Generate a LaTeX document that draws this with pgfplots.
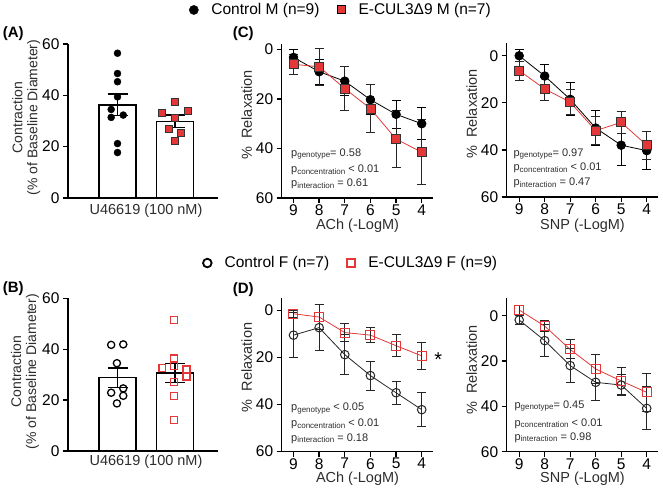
\documentclass[border=0pt]{standalone}
\usepackage{fontspec}
\setmainfont{Liberation Sans}
\usepackage{pgfplots}
\pgfplotsset{compat=1.18}
\definecolor{cred}{RGB}{228,56,56}
\definecolor{ptxt}{RGB}{45,45,45}
\newcommand{\sub}[1]{\raisebox{-0.3ex}{\fontsize{8}{9}\selectfont #1}}
\newcommand{\fs}[1]{\fontsize{#1}{#1}\selectfont}
\pgfplotsset{
  prism/.style={
    scale only axis,
    anchor=north west,
    axis x line*=bottom,
    axis y line*=left,
    axis line style={line width=1.3pt, -},
    tick style={line width=1.3pt, black},
    tick align=outside,
    major tick length=5pt,
    tick label style={font=\fs{15.5}},
    xticklabel style={inner sep=1.5pt},
    /pgf/number format/assume math mode=true,
    clip=false,
    ytick={0,20,40,60},
  },
  curveax/.style={prism, x dir=reverse, y dir=reverse, xtick={4,5,6,7,8,9}},
  ctrlM/.style={black, line width=0.8pt, mark=*, mark size=4.3pt, mark options={solid, fill=black, draw=black},
    error bars/.cd, y dir=both, y explicit, error bar style={black, line width=1pt},
    error mark options={rotate=90, black, mark size=4.5pt, line width=1pt}},
  culM/.style={cred, line width=0.8pt, mark=square*, mark size=4.5pt, mark options={solid, fill=cred, draw=black!80, line width=0.8pt},
    error bars/.cd, y dir=both, y explicit, error bar style={black!85, line width=1pt},
    error mark options={rotate=90, black!85, mark size=4.5pt, line width=1pt}},
  ctrlF/.style={black!85, line width=0.8pt, mark=o, mark size=4.3pt, mark options={solid, draw=black!85, fill=none, line width=1pt},
    error bars/.cd, y dir=both, y explicit, error bar style={black!85, line width=1pt},
    error mark options={rotate=90, black!85, mark size=4.5pt, line width=1pt}},
  culF/.style={cred, line width=0.8pt, mark=square, mark size=4.5pt, mark options={solid, draw=cred, fill=none, line width=1pt},
    error bars/.cd, y dir=both, y explicit, error bar style={black!85, line width=1pt},
    error mark options={rotate=90, black!85, mark size=4.5pt, line width=1pt}},
  toplegend/.style={legend style={draw=none, fill=none,
    font=\fs{15.5}, legend columns=2, inner sep=0pt,
    /tikz/every odd column/.append style={column sep=11pt},
    /tikz/every even column/.append style={column sep=16pt}},
    legend cell align=left},
}
\begin{document}
\begin{tikzpicture}
\path[use as bounding box] (0,0) rectangle (663pt,-489pt);

% ---------------- Panel A ----------------
\begin{axis}[prism, at={(68pt,-44pt)}, width=150pt, height=154pt,
  xmin=0.139, xmax=2.748, ymin=0, ymax=60, xtick=\empty, toplegend,
  legend style={at={(1.82,1.221)}, anchor=center}]
\addplot[ybar, bar width=37pt, fill=white, draw=black, line width=1.5pt, forget plot] coordinates {(1,36.3) (2,29.9)};
\addplot[only marks, mark=*, mark size=3.5pt, black, forget plot] coordinates {
(1.0,56.4) (1.0,48.5) (1.0,45.3) (1.0,39.4) (0.89,34.5) (1.10,32.3) (0.89,31.4) (1.0,21.2) (1.0,17.7)};
\addplot[only marks, mark=square*, mark size=3.5pt, mark options={fill=cred, draw=black!80, line width=0.8pt}, forget plot] coordinates {
(2.0,37.5) (1.78,33.3) (2.22,33.8) (2.0,31.4) (1.89,27.1) (2.11,25.5) (2.0,22.3)};
\addplot[draw=none, mark=none, forget plot, error bars/.cd, y dir=both, y explicit,
  error bar style={draw=black, line width=1.5pt}, error mark options={rotate=90, draw=black, mark size=10pt, line width=1.5pt}]
  table[x=x, y=y, y error=e] {
x y e
1 36.3 4.2
2 29.9 2.4
};
\addlegendimage{only marks, mark=*, mark size=4.6pt, black}
\addlegendentry{Control M (n=9)}
\addlegendimage{only marks, mark=square*, mark size=4pt, mark options={fill=cred, draw=black, line width=1pt}}
\addlegendentry{E-CUL3Δ9 M (n=7)}
\end{axis}

% ---------------- Panel B ----------------
\begin{axis}[prism, at={(68pt,-298.3pt)}, width=150pt, height=152.7pt,
  xmin=0.139, xmax=2.748, ymin=0, ymax=60, xtick=\empty, toplegend,
  legend style={at={(1.887,1.231)}, anchor=center}]
\addplot[ybar, bar width=37pt, fill=white, draw=black, line width=1.5pt, forget plot] coordinates {(1,28.8) (2,30.7)};
\addplot[only marks, mark=o, mark size=3.6pt, mark options={draw=black, line width=1.3pt}, forget plot] coordinates {
(0.89,41.7) (1.10,41.9) (0.99,34.5) (1.10,24.6) (0.89,22.9) (1.10,21.7) (0.99,18.7)};
\addplot[only marks, mark=square, mark size=3.4pt, mark options={draw=cred, line width=1.3pt}, forget plot] coordinates {
(1.98,51.5) (1.98,36.4) (1.78,32.7) (1.98,33.4) (2.2,32.1) (2.2,29.2) (1.98,27.2) (1.98,21.7) (1.98,12.2)};
\addplot[draw=none, mark=none, forget plot, error bars/.cd, y dir=both, y explicit,
  error bar style={draw=black, line width=1.5pt}, error mark options={rotate=90, draw=black, mark size=10pt, line width=1.5pt}]
  table[x=x, y=y, y error=e] {
x y e
1 28.8 3.9
2 30.7 3.7
};
\addlegendimage{only marks, mark=o, mark size=4.3pt, mark options={draw=black, line width=1.8pt}}
\addlegendentry{Control F (n=7)}
\addlegendimage{only marks, mark=square, mark size=4pt, mark options={draw=cred, line width=1.8pt}}
\addlegendentry{E-CUL3Δ9 F (n=9)}
\end{axis}

% ---------------- Panel C ACh ----------------
\begin{axis}[curveax, at={(281.7pt,-44.5pt)}, width=151.3pt, height=153.5pt,
  xmin=3.56, xmax=9.46, ymin=-2, ymax=60]
\addplot[ctrlM] table[x=x, y=y, y error=e] {
x y e
9 3.2 3.0
8 9.0 5.0
7 12.8 6.0
6 20.3 6.0
5 26.2 5.7
4 30.0 6.5
};
\addplot[culM] table[x=x, y=y, y error=e] {
x y e
9 6.0 4.0
8 7.0 7.5
7 15.8 9.0
6 23.9 9.7
5 36.2 11.6
4 41.5 13.1
};
\end{axis}

% ---------------- Panel C SNP ----------------
\begin{axis}[curveax, at={(506.7pt,-43.3pt)}, width=151.6pt, height=153.7pt,
  xmin=3.545, xmax=9.49, ymin=-5.3, ymax=60]
\addplot[ctrlM] table[x=x, y=y, y error=e] {
x y e
9 0.0 2.5
8 8.6 4.7
7 18.5 7.0
6 30.7 7.5
5 38.0 8.5
4 40.3 8.0
};
\addplot[culM] table[x=x, y=y, y error=e] {
x y e
9 6.3 4.0
8 14.1 5.0
7 19.7 5.3
6 31.8 6.0
5 28.3 4.6
4 38.0 6.0
};
\end{axis}

% ---------------- Panel D ACh ----------------
\begin{axis}[curveax, at={(281.7pt,-298pt)}, width=151.3pt, height=153.5pt,
  xmin=3.56, xmax=9.46, ymin=-5.3, ymax=60]
\addplot[ctrlF] table[x=x, y=y, y error=e] {
x y e
9 10.5 9.7
8 7.3 9.8
7 18.8 8.6
6 27.7 6.2
5 35.0 4.8
4 42.2 7.2
};
\addplot[culF] table[x=x, y=y, y error=e] {
x y e
9 1.4 1.5
8 2.8 5.3
7 9.4 3.8
6 10.5 3.3
5 15.0 4.7
4 19.3 5.8
};
\end{axis}

% ---------------- Panel D SNP ----------------
\begin{axis}[curveax, at={(506.7pt,-298pt)}, width=151.6pt, height=153.7pt,
  xmin=3.545, xmax=9.49, ymin=-7.8, ymax=60]
\addplot[ctrlF] table[x=x, y=y, y error=e] {
x y e
9 1.9 2.0
8 11.0 7.0
7 22.0 7.5
6 29.4 7.8
5 30.6 4.8
4 40.9 9.5
};
\addplot[culF] table[x=x, y=y, y error=e] {
x y e
9 -2.5 2.0
8 4.6 2.4
7 14.9 4.2
6 23.5 6.5
5 28.8 5.8
4 33.8 8.3
};
\end{axis}

% ---------------- Texts ----------------
\node[font=\fs{15}\bfseries] at (13.3pt,-33.3pt) {(A)};
\node[font=\fs{15}\bfseries] at (13.3pt,-288.3pt) {(B)};
\node[font=\fs{15}\bfseries] at (243.3pt,-33.3pt) {(C)};
\node[font=\fs{15}\bfseries] at (243.3pt,-289.3pt) {(D)};

\node[font=\fs{14}, rotate=90, align=center, text=ptxt] at (26.3pt,-117.5pt) {Contraction\\[1pt](\% of Baseline Diameter)};
\node[font=\fs{14}, rotate=90, align=center, text=ptxt] at (25pt,-371.7pt) {Contraction\\[1pt](\% of Baseline Diameter)};
\node[font=\fs{14.5}, text=ptxt] at (146pt,-211pt) {U46619 (100 nM)};
\node[font=\fs{14.5}, text=ptxt] at (146pt,-461.7pt) {U46619 (100 nM)};

\node[font=\fs{14.5}, rotate=90, text=ptxt] at (246.7pt,-115pt) {\%\ \ Relaxation};
\node[font=\fs{14.5}, rotate=90, text=ptxt] at (471.7pt,-114pt) {\%\ \ Relaxation};
\node[font=\fs{14.5}, rotate=90, text=ptxt] at (246.7pt,-367.5pt) {\%\ \ Relaxation};
\node[font=\fs{14.5}, rotate=90, text=ptxt] at (471.7pt,-370pt) {\%\ \ Relaxation};

\node[font=\fs{14.5}, text=ptxt, inner sep=1pt] at (357.5pt,-226pt) {ACh (-LogM)};
\node[font=\fs{14.5}, text=ptxt, inner sep=1pt] at (582.5pt,-226pt) {SNP (-LogM)};
\node[font=\fs{14.5}, text=ptxt, inner sep=1pt] at (357.5pt,-479pt) {ACh (-LogM)};
\node[font=\fs{14.5}, text=ptxt, inner sep=1pt] at (582.5pt,-479pt) {SNP (-LogM)};

\begin{scope}[every node/.style={font=\fs{11}, text=ptxt, anchor=west, inner sep=0pt}]
\node at (291pt,-154pt) {p\sub{genotype}= 0.58};
\node at (291pt,-170pt) {p\sub{concentration} < 0.01};
\node at (291pt,-184.3pt) {p\sub{interaction} = 0.61};
\node at (513.3pt,-154pt) {p\sub{genotype}= 0.97};
\node at (513.3pt,-168.3pt) {p\sub{concentration} < 0.01};
\node at (513.3pt,-183.3pt) {p\sub{interaction} = 0.47};
\node at (291pt,-408.3pt) {p\sub{genotype} < 0.05};
\node at (291pt,-424pt) {p\sub{concentration} < 0.01};
\node at (291pt,-438.3pt) {p\sub{interaction} = 0.18};
\node at (514.3pt,-406pt) {p\sub{genotype}= 0.45};
\node at (514.3pt,-423.3pt) {p\sub{concentration} < 0.01};
\node at (514.3pt,-437.3pt) {p\sub{interaction} = 0.98};
\end{scope}
\node[font=\fs{20}] at (438.3pt,-360pt) {*};
\end{tikzpicture}
\end{document}
